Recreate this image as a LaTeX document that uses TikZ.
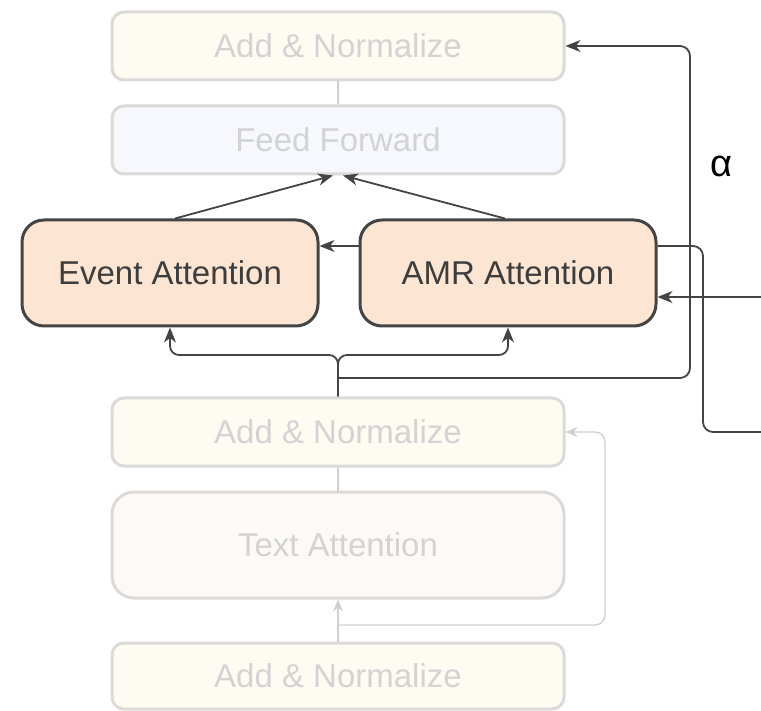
\documentclass[tikz,border=0pt]{standalone}
\usepackage{fontspec}
\setmainfont{Liberation Sans}
\usetikzlibrary{arrows.meta}
\definecolor{dk}{HTML}{444444}
\definecolor{fb}{HTML}{DCDAD8}
\definecolor{ft}{HTML}{D3D3D3}
\definecolor{fl}{HTML}{CFCFCF}
\definecolor{cream}{HTML}{FEFBF3}
\definecolor{bluish}{HTML}{F7F8FD}
\definecolor{pinkish}{HTML}{FDF9F6}
\definecolor{peach}{HTML}{FCE5D2}
\tikzset{
  fadebox/.style={draw=fb, line width=3pt, rounded corners=12pt, minimum width=452pt, minimum height=68pt, text=ft, font=\fontsize{33}{39}\selectfont, inner sep=0pt},
  darkbox/.style={draw=dk, line width=3pt, rounded corners=22pt, fill=peach, minimum width=296pt, minimum height=106pt, text=dk!90!black, font=\fontsize{33}{39}\selectfont, inner sep=0pt},
  dkarrow/.style={draw=dk, line width=1.8pt, -{Stealth[length=15pt,width=12pt,inset=4.5pt]}},
  dkline/.style={draw=dk, line width=1.8pt},
  ltarrow/.style={draw=fl, line width=1.3pt, -{Stealth[length=12pt,width=10pt,inset=4pt]}},
  ltline/.style={draw=fl, line width=1.3pt},
}
\begin{document}
\begin{tikzpicture}[x=1pt,y=-1pt]
\useasboundingbox (0,0) rectangle (761,711);
\node[fadebox, fill=cream] (topan) at (338,46) {Add \& Normalize};
\node[fadebox, fill=bluish] (ff) at (338,140) {Feed Forward};
\node[darkbox] (event) at (170,273) {Event Attention};
\node[darkbox] (amr) at (508,273) {AMR Attention};
\node[fadebox, fill=cream] (midan) at (338,432) {Add \& Normalize};
\node[fadebox, fill=pinkish, minimum height=106pt, rounded corners=22pt] (text) at (338,545) {Text Attention};
\node[fadebox, fill=cream, minimum height=66pt] (botan) at (338,676) {Add \& Normalize};
\node[font=\fontsize{38}{44}\selectfont, text=black] (alpha) at (721,166) {α};
\coordinate (split) at (338,355);
\coordinate (loop) at (338,378);
\coordinate (inp) at (762,297);
\coordinate (outp) at (762,432);
\coordinate (lsplit) at (338,625);
% faded connectors
\draw[ltline] (topan.south) -- (ff.north);
\draw[ltline] (midan.south) -- (text.north);
\draw[ltarrow] (botan.north) -- (text.south);
\draw[ltarrow, rounded corners=10pt] (lsplit) -- (605,625) -- (605,432) -- (midan.east);
% dark connectors
\draw[dkarrow] ([xshift=5pt]event.north) -- ([xshift=-5pt]ff.south);
\draw[dkarrow] ([xshift=-3pt]amr.north) -- ([xshift=5pt]ff.south);
\draw[dkarrow] ([yshift=27pt]amr.west) -- ([yshift=27pt]event.east);
\draw[dkarrow, rounded corners=9pt] (midan.north) -- (split) -- (170,355) -- (event.south);
\draw[dkarrow, rounded corners=9pt] (midan.north) -- (split) -- (508,355) -- (amr.south);
\draw[dkarrow, rounded corners=10pt] (loop) -- (690,378) -- (690,46) -- (topan.east);
\draw[dkline, rounded corners=10pt] ([yshift=27pt]amr.east) -- (703,246) -- (703,432) -- (outp);
\draw[dkarrow] (inp) -- ([yshift=-24pt]amr.east);
\end{tikzpicture}
\end{document}
